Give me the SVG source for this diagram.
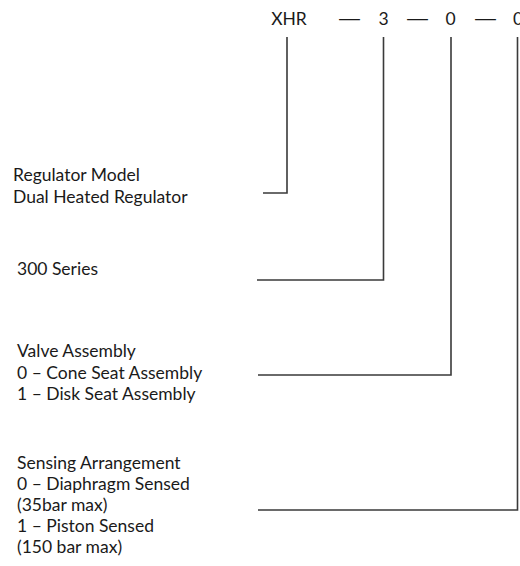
<svg xmlns="http://www.w3.org/2000/svg" width="520" height="566" viewBox="0 0 520 566">
<style>
.t{font-family:Lato,"Open Sans","Liberation Sans",sans-serif;font-size:17.5px;fill:#1a1a1a}
.c{fill:none;stroke:#3a3a3a;stroke-width:1.6}
</style>
<rect width="520" height="566" fill="#ffffff"/>
<g id="header">
<text class="t" x="289" y="25" text-anchor="middle">XHR</text>
<text class="t" x="337" y="25" textLength="25" lengthAdjust="spacingAndGlyphs">—</text>
<text class="t" x="383.5" y="25" text-anchor="middle">3</text>
<text class="t" x="405" y="25" textLength="25" lengthAdjust="spacingAndGlyphs">—</text>
<text class="t" x="450.5" y="25" text-anchor="middle">0</text>
<text class="t" x="473" y="25" textLength="25" lengthAdjust="spacingAndGlyphs">—</text>
<text class="t" x="513" y="25">0</text>
</g>
<g id="node-model">
<text class="t" x="13" y="181">Regulator Model</text>
<text class="t" x="13" y="203">Dual Heated Regulator</text>
</g>
<g id="node-series">
<text class="t" x="17" y="275">300 Series</text>
</g>
<g id="node-valve">
<text class="t" x="17" y="357">Valve Assembly</text>
<text class="t" x="17" y="379">0 – Cone Seat Assembly</text>
<text class="t" x="17" y="400">1 – Disk Seat Assembly</text>
</g>
<g id="node-sensing">
<text class="t" x="17" y="469">Sensing Arrangement</text>
<text class="t" x="17" y="490">0 – Diaphragm Sensed</text>
<text class="t" x="17" y="511">(35bar max)</text>
<text class="t" x="17" y="532">1 – Piston Sensed</text>
<text class="t" x="17" y="553">(150 bar max)</text>
</g>
<g id="connectors">
<polyline class="c" points="287,37 287,193 263,193"/>
<polyline class="c" points="383.5,37 383.5,280 257,280"/>
<polyline class="c" points="451,37 451,375 258,375"/>
<polyline class="c" points="517.5,37 517.5,510 258,510"/>
</g>
</svg>
